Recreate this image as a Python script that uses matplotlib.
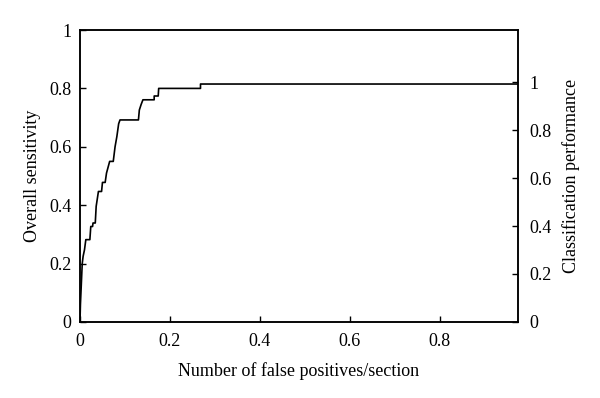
import matplotlib
matplotlib.use("Agg")
import matplotlib.pyplot as plt

plt.rcParams['font.family'] = ['Liberation Serif', 'DejaVu Serif']

# Curve vertices (false positives/section, overall sensitivity)
fp = [0.0, 0.001, 0.003, 0.005, 0.007, 0.010, 0.013, 0.022, 0.024, 0.028, 0.029,
      0.034, 0.036, 0.041, 0.048, 0.050, 0.056, 0.059, 0.066, 0.074, 0.078,
      0.082, 0.086, 0.089, 0.130, 0.132, 0.136, 0.140, 0.165, 0.165, 0.174,
      0.175, 0.268, 0.268, 0.974]
sens = [0.0, 0.06, 0.13, 0.20, 0.225, 0.247, 0.282, 0.282, 0.327, 0.327, 0.339,
        0.339, 0.396, 0.447, 0.447, 0.478, 0.478, 0.51, 0.55, 0.55, 0.60,
        0.635, 0.679, 0.692, 0.692, 0.726, 0.745, 0.761, 0.761, 0.774, 0.774,
        0.80, 0.80, 0.815, 0.815]

x_ticks = [0, 0.2, 0.4, 0.6, 0.8]
x_labels = ["0", "0.2", "0.4", "0.6", "0.8"]
y_ticks = [0, 0.2, 0.4, 0.6, 0.8, 1]
y_labels = ["0", "0.2", "0.4", "0.6", "0.8", "1"]

fig = plt.figure(figsize=(6.0, 3.98), dpi=100)
ax = fig.add_axes([0.1333, 0.191, 0.73, 0.7336])
ax.plot(fp, sens, color='black', lw=1.2)
ax.set_xlim(0, 0.974)
ax.set_ylim(0, 1)
ax.set_xticks(x_ticks)
ax.set_xticklabels(x_labels)
ax.set_yticks(y_ticks)
ax.set_yticklabels(y_labels)
ax.tick_params(axis='x', direction='in', length=4, width=1, labelsize=13, pad=8)
ax.tick_params(axis='y', direction='in', length=4, width=1, labelsize=13, pad=6)
ax.set_xlabel("Number of false positives/section", fontsize=13, labelpad=9)
ax.set_ylabel("Overall sensitivity", fontsize=13, labelpad=6)
for s in ax.spines.values():
    s.set_linewidth(1.1)

ax2 = ax.twinx()
ax2.set_ylim(0, 1.217)
ax2.set_yticks(y_ticks)
ax2.set_yticklabels(y_labels)
ax2.tick_params(direction='in', length=4, width=1, labelsize=13, pad=8)
ax2.set_ylabel("Classification performance", fontsize=13, labelpad=8)
for s in ax2.spines.values():
    s.set_linewidth(1.1)

fig.savefig("out.png", dpi=100)
